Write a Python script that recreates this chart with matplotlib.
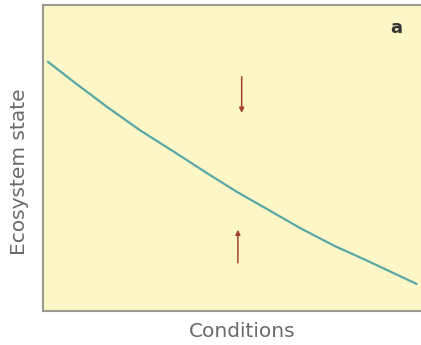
import matplotlib.pyplot as plt

# equilibrium curve
conditions = [0.13, 0.85, 1.69, 2.57, 3.49, 4.29, 5.13, 6.01, 6.80, 7.72, 8.65, 9.44, 9.89]
state = [8.14, 7.45, 6.67, 5.90, 5.18, 4.54, 3.89, 3.27, 2.71, 2.12, 1.60, 1.14, 0.88]

# arrows: (x, y_start, y_end)
arrows = [(5.26, 7.65, 6.47), (5.16, 1.57, 2.65)]

fig = plt.figure(figsize=(4.21, 3.45), dpi=100)
# the panel runs past the right edge of the picture
ax = fig.add_axes([0.102, 0.099, 0.945, 0.887])
ax.set_facecolor('#fdf6c6')

ax.plot(conditions, state, color='#5aa8a6', lw=1.6, solid_capstyle='round')

for x, y0, y1 in arrows:
    ax.annotate('', xy=(x, y1), xytext=(x, y0),
                arrowprops=dict(arrowstyle='-|>', color='#a6402e', lw=1.1,
                                mutation_scale=7, shrinkA=0, shrinkB=0))

ax.text(0.887, 0.925, 'a', transform=ax.transAxes, fontsize=13,
        fontweight='bold', color='#333333', ha='center', va='center')

ax.set_xlim(0, 10.53)
ax.set_ylim(0, 10)
ax.set_xticks([])
ax.set_yticks([])
for side in ['left', 'bottom', 'top']:
    ax.spines[side].set_color('#9a9a90')
    ax.spines[side].set_linewidth(1.5)
ax.spines['right'].set_visible(False)

ax.set_xlabel('Conditions', fontsize=14.5, color='#6a6a6a', labelpad=8)
ax.set_ylabel('Ecosystem state', fontsize=14.5, color='#6a6a6a')
ax.yaxis.set_label_coords(-0.036, 0.455)

fig.savefig('out.png', dpi=100)
